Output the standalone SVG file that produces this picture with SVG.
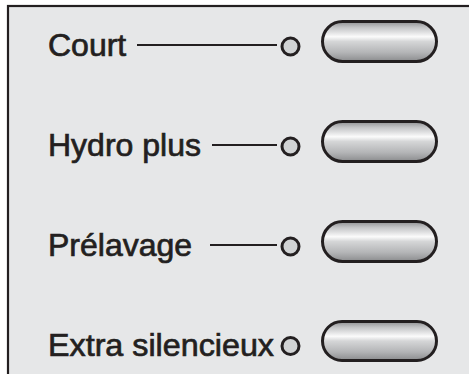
<svg xmlns="http://www.w3.org/2000/svg" width="469" height="374" viewBox="0 0 469 374">
  <defs>
    <linearGradient id="metal" x1="0" y1="0" x2="0" y2="1">
      <stop offset="0" stop-color="#8f9092"/>
      <stop offset="0.15" stop-color="#c3c4c6"/>
      <stop offset="0.38" stop-color="#fbfbfb"/>
      <stop offset="0.5" stop-color="#d5d6d7"/>
      <stop offset="0.78" stop-color="#b3b4b6"/>
      <stop offset="1" stop-color="#8a8b8d"/>
    </linearGradient>
    <style>
      .lbl { font-family: "Liberation Sans", Arial, sans-serif; font-size: 32px; fill: #231f20; stroke: #231f20; stroke-width: 0.7; }
      .led { fill: #d1d3d4; stroke: #231f20; stroke-width: 3; }
      .btn { fill: url(#metal); stroke: #231f20; stroke-width: 3; }
      .wire { stroke: #231f20; stroke-width: 1.8; fill: none; }
    </style>
  </defs>
  <rect x="0" y="0" width="469" height="374" fill="#ffffff"/>
  <rect x="8" y="6" width="470" height="380" fill="#e6e7e8" stroke="#231f20" stroke-width="2.2"/>

  <g id="connectors">
    <line class="wire" x1="137" y1="45" x2="277" y2="45"/>
    <line class="wire" x1="212" y1="145" x2="277" y2="145"/>
    <line class="wire" x1="210" y1="245" x2="277" y2="245"/>
  </g>

  <g id="court">
    <text class="lbl" x="48" y="56">Court</text>
    <circle class="led" cx="290.5" cy="46.5" r="8.5"/>
    <rect class="btn" x="322.5" y="21.5" width="114" height="40" rx="20" ry="20"/>
  </g>
  <g id="hydro-plus">
    <text class="lbl" x="48" y="156">Hydro plus</text>
    <circle class="led" cx="290.5" cy="146.5" r="8.5"/>
    <rect class="btn" x="322.5" y="121.5" width="114" height="40" rx="20" ry="20"/>
  </g>
  <g id="prelavage">
    <text class="lbl" x="48" y="256">Prélavage</text>
    <circle class="led" cx="290.5" cy="246.5" r="8.5"/>
    <rect class="btn" x="322.5" y="221.5" width="114" height="40" rx="20" ry="20"/>
  </g>
  <g id="extra-silencieux">
    <text class="lbl" x="48" y="355.5" textLength="226" lengthAdjust="spacingAndGlyphs">Extra silencieux</text>
    <circle class="led" cx="290.5" cy="346" r="8.5"/>
    <rect class="btn" x="322.5" y="321.5" width="114" height="39" rx="19.5" ry="19.5"/>
  </g>
</svg>
